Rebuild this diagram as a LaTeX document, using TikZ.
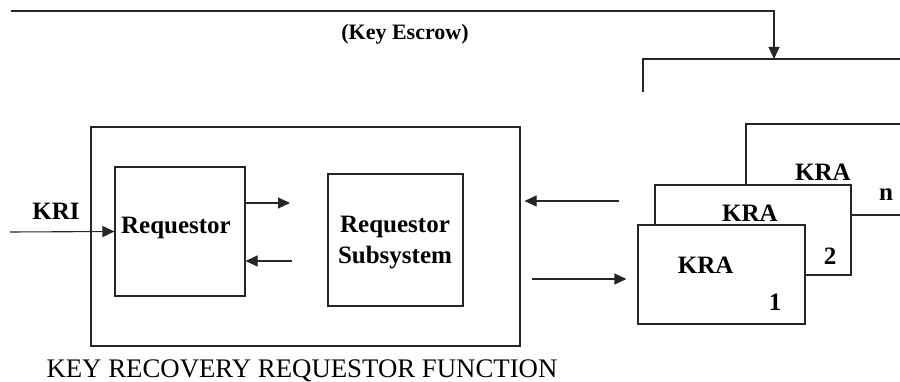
\documentclass[tikz,border=0pt]{standalone}
\usepackage{fontspec}
\setmainfont{Liberation Serif}
\usetikzlibrary{arrows.meta,calc}
\begin{document}
\begin{tikzpicture}[x=1pt,y=-1pt,
  ln/.style={line width=1.1pt,draw=black!85},
  arr/.style={ln,-{Triangle[length=12pt,width=11pt]}},
  box/.style={ln,rectangle,inner sep=0pt,fill=white},
  lbl/.style={font=\fontsize{25}{29}\selectfont\bfseries,inner sep=0pt,anchor=base},
]
\useasboundingbox (0,0) rectangle (900,382);

% top escrow feedback
\coordinate (tl) at (11,11);
\coordinate (esc) at (774,59);
\coordinate (brl) at (643,92);
\coordinate (brr) at (900,59);
\draw[ln] (brl) -- (brl |- esc) -- (brr);
\draw[arr] (tl) -| (esc);
\node[font=\fontsize{22}{26}\selectfont\bfseries,inner sep=0pt,anchor=base] (esct) at (405,40) {(Key Escrow)};

% requestor function
\node[box,minimum width=429pt,minimum height=219pt] (outer) at (305.5,236.5) {};
\node[box,minimum width=130pt,minimum height=129pt] (req) at (180,231.5) {};
\node[box,minimum width=135pt,minimum height=132pt] (sub) at (395.5,240) {};
\node[lbl] (kri) at (56,220) {KRI};
\node[lbl] (reqt) at (176,234) {Requestor};
\node[lbl] (subt1) at (395,233) {Requestor};
\node[lbl] (subt2) at (395,264) {Subsystem};
\node[font=\fontsize{26.8}{30}\selectfont,inner sep=0pt,anchor=base] (title) at (302,377) {KEY RECOVERY REQUESTOR FUNCTION};

\coordinate (kriin) at (10,232);
\coordinate (toSub) at (290,203);
\coordinate (fromSub) at (292,261);
\draw[arr] (kriin) -- (req.west);
\draw[arr] (req.east |- toSub) -- (toSub);
\draw[arr] (fromSub) -- (req.east |- fromSub);

% KRA stack
\node[box,minimum width=160pt,minimum height=91pt] (kran) at (826,169.5) {};
\node[box,minimum width=196pt,minimum height=90pt] (kra2) at (753,230) {};
\node[box,minimum width=167pt,minimum height=99pt] (kra1) at (721.5,274.5) {};
\node[lbl] (kranl) at (823,181) {KRA};
\node[lbl] (kran n) at (886,201) {n};
\node[lbl] (kra2l) at (750,221.7) {KRA};
\node[lbl] (kra2n) at (830,265) {2};
\node[lbl] (kra1l) at (705.7,274) {KRA};
\node[lbl] (kra1n) at (775,310) {1};

\coordinate (inR) at (619,201);
\coordinate (outL) at (532,279);
\draw[arr,shorten >=4pt] (inR) -- (outer.east |- inR);
\draw[arr,shorten >=11pt] (outL) -- (kra1.west |- outL);
\end{tikzpicture}
\end{document}
